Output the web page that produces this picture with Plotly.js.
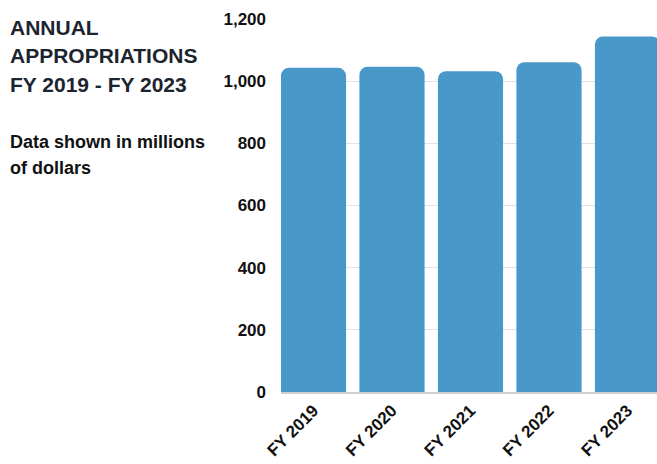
<!DOCTYPE html>
<html>
<head>
<meta charset="utf-8">
<script src="https://cdn.plot.ly/plotly-3.0.1.min.js"></script>
<style>
html,body{margin:0;padding:0;background:#fff;overflow:hidden;}
#chart{width:657px;height:464px;}
</style>
</head>
<body>
<div id="chart"></div>
<script>
const categories = ["FY 2019", "FY 2020", "FY 2021", "FY 2022", "FY 2023"];
const appropriations = [1043, 1046, 1032, 1061, 1144];
const yTickValues = [0, 200, 400, 600, 800, 1000, 1200];
const yTickLabels = ["0", "200", "400", "600", "800", "1,000", "1,200"];
const titleLines = ["ANNUAL", "APPROPRIATIONS", "FY 2019 - FY 2023"];
const noteLines = ["Data shown in millions", "of dollars"];

const W = 657, H = 464;
const M = {l: 281, r: 0, t: 19, b: 72};
const plotW = W - M.l - M.r, plotH = H - M.t - M.b;
const px = v => (v - M.l) / plotW;
const py = v => (H - M.b - v) / plotH;

const FONT = '"Liberation Sans", Arial, Helvetica, sans-serif';
const annotations = [];
const titleY = [27.5, 56, 84];
titleLines.forEach((t, i) => annotations.push({
  text: t, xref: 'paper', yref: 'paper',
  x: px(8), y: py(titleY[i]), xanchor: 'left', yanchor: 'middle',
  showarrow: false, font: {family: FONT, size: 21, color: '#1c2430', weight: 'bold'}
}));
const noteY = [141.5, 168];
noteLines.forEach((t, i) => annotations.push({
  text: t, xref: 'paper', yref: 'paper',
  x: px(8), y: py(noteY[i]), xanchor: 'left', yanchor: 'middle',
  showarrow: false, font: {family: FONT, size: 18, color: '#111111', weight: 'bold'}
}));

const data = [{
  type: 'bar',
  x: categories,
  y: appropriations,
  marker: {color: '#4898c9', cornerradius: 8, line: {width: 0}},
  hoverinfo: 'x+y'
}];

const layout = {
  width: W, height: H,
  margin: M,
  paper_bgcolor: '#ffffff', plot_bgcolor: '#ffffff',
  showlegend: false,
  bargap: 0.17,
  font: {family: FONT, size: 17, color: '#111111'},
  xaxis: {
    type: 'category',
    range: [-0.414, 4.376],
    tickangle: -45,
    tickfont: {family: FONT, size: 17, color: '#111111', weight: 'bold'},
    showgrid: false,
    showline: true, linecolor: '#d0d0d0', linewidth: 2,
    ticks: '', fixedrange: true
  },
  yaxis: {
    range: [0, 1200],
    tickvals: yTickValues,
    ticktext: yTickLabels,
    tickfont: {family: FONT, size: 17, color: '#111111', weight: 'bold'},
    showgrid: true, gridcolor: '#e3e3e3', gridwidth: 1,
    zeroline: false,
    ticks: '', ticklabelstandoff: 14,
    showline: false, fixedrange: true
  },
  annotations: annotations
};

Plotly.newPlot('chart', data, layout, {displayModeBar: false, staticPlot: true});
</script>
</body>
</html>
